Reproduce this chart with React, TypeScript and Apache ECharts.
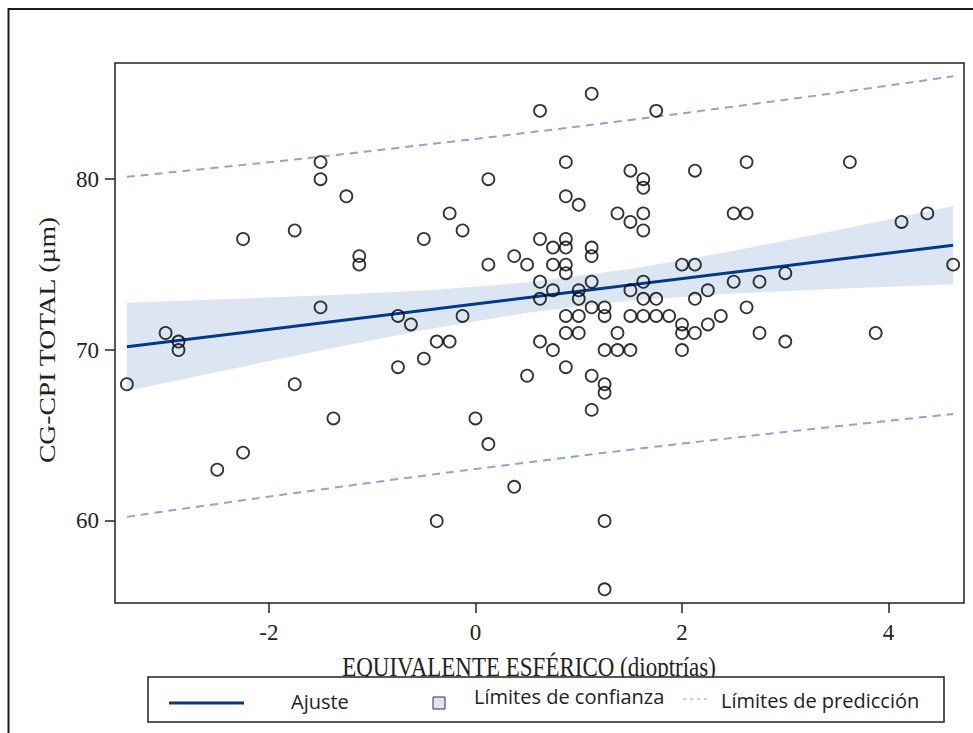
import React, { useEffect, useRef } from "react";
import * as echarts from "echarts";

// Scatter data: [equivalente esférico (D), CG-CPI total (µm)]
const points: [number, number][] = [
  [-3.375, 68], [-3, 71], [-2.875, 70.5], [-2.875, 70], [-2.5, 63],
  [-2.25, 76.5], [-2.25, 64], [-1.75, 77], [-1.75, 68],
  [-1.5, 81], [-1.5, 80], [-1.5, 72.5], [-1.375, 66], [-1.25, 79],
  [-1.125, 75.5], [-1.125, 75], [-0.75, 72], [-0.75, 69], [-0.625, 71.5],
  [-0.5, 76.5], [-0.5, 69.5], [-0.375, 70.5], [-0.375, 60],
  [-0.25, 78], [-0.25, 70.5], [-0.125, 77], [-0.125, 72],
  [0, 66], [0.125, 80], [0.125, 75], [0.125, 64.5],
  [0.375, 75.5], [0.375, 62], [0.5, 75], [0.5, 68.5],
  [0.625, 84], [0.625, 76.5], [0.625, 74], [0.625, 73], [0.625, 70.5],
  [0.75, 76], [0.75, 75], [0.75, 73.5], [0.75, 70],
  [0.875, 81], [0.875, 79], [0.875, 76.5], [0.875, 76], [0.875, 75],
  [0.875, 74.5], [0.875, 72], [0.875, 71], [0.875, 69],
  [1, 78.5], [1, 73.5], [1, 73], [1, 72], [1, 71],
  [1.125, 85], [1.125, 76], [1.125, 75.5], [1.125, 74], [1.125, 72.5],
  [1.125, 68.5], [1.125, 66.5],
  [1.25, 72.5], [1.25, 72], [1.25, 70], [1.25, 68], [1.25, 67.5],
  [1.25, 60], [1.25, 56],
  [1.375, 78], [1.375, 71], [1.375, 70],
  [1.5, 80.5], [1.5, 77.5], [1.5, 73.5], [1.5, 72], [1.5, 70],
  [1.625, 80], [1.625, 79.5], [1.625, 78], [1.625, 77], [1.625, 74],
  [1.625, 73], [1.625, 72],
  [1.75, 84], [1.75, 73], [1.75, 72], [1.875, 72],
  [2, 75], [2, 71.5], [2, 71], [2, 70],
  [2.125, 80.5], [2.125, 75], [2.125, 73], [2.125, 71],
  [2.25, 73.5], [2.25, 71.5], [2.375, 72], [2.5, 78], [2.5, 74],
  [2.625, 81], [2.625, 78], [2.625, 72.5], [2.75, 74], [2.75, 71],
  [3, 74.5], [3, 70.5], [3.625, 81], [3.875, 71], [4.125, 77.5],
  [4.375, 78], [4.625, 75],
];

// Fitted line
const fitX = [-3.375, 4.625];
const fitY = [70.19, 76.14];

// Confidence and prediction limits
const bandX = [-3.375, -2.5, -1.5, -0.5, 0.5, 1.5, 2.5, 3.5, 4.625];
const ciUpper = [72.77, 72.96, 73.19, 73.49, 73.95, 74.74, 75.81, 77.01, 78.43];
const ciLower = [67.61, 68.72, 69.97, 71.17, 72.19, 72.9, 73.31, 73.59, 73.85];
const predUpper = [80.14, 80.68, 81.32, 82.01, 82.72, 83.47, 84.25, 85.06, 86.02];
const predLower = [60.24, 61.0, 61.84, 62.65, 63.42, 64.17, 64.87, 65.54, 66.26];

const xTicks = [-2, 0, 2, 4];
const yTicks = [60, 70, 80];

const xTitle = "EQUIVALENTE ESFÉRICO (dioptrías)";
const yTitle = "CG-CPI TOTAL (µm)";
const legendLabels = ["Ajuste", "Límites de confianza", "Límites de predicción"];

const FIT_COLOR = "#003a8c";
const BAND_COLOR = "#dce6f2";
const PRED_COLOR = "#8fa6cf";
const SERIF = "'Liberation Serif', 'DejaVu Serif', serif";
const SANS = "'Open Sans', 'Noto Sans', sans-serif";

export default function App() {
  const ref = useRef<HTMLDivElement>(null);

  useEffect(() => {
    if (!ref.current) return;
    const chart = echarts.init(ref.current, undefined, { renderer: "svg" });

    const option: any = {
      animation: false,
      backgroundColor: "#ffffff",
      grid: {
        left: 115,
        top: 63,
        right: 9,
        bottom: 130,
        show: true,
        borderColor: "#222",
        borderWidth: 1.5,
        backgroundColor: "transparent",
      },
      xAxis: {
        type: "value",
        min: -3.49,
        max: 4.73,
        position: "bottom",
        axisLine: { show: false, onZero: false },
        splitLine: { show: false },
        axisTick: {
          show: true,
          length: 10,
          inside: false,
          customValues: xTicks,
          lineStyle: { color: "#222", width: 1.5 },
        },
        axisLabel: {
          customValues: xTicks,
          margin: 18,
          fontFamily: SERIF,
          fontSize: 23,
          color: "#222",
          formatter: (v: number) => String(v),
        },
      },
      yAxis: {
        type: "value",
        min: 55.2,
        max: 86.8,
        position: "left",
        axisLine: { show: false, onZero: false },
        splitLine: { show: false },
        axisTick: {
          show: true,
          length: 10,
          inside: false,
          customValues: yTicks,
          lineStyle: { color: "#222", width: 1.5 },
        },
        axisLabel: {
          customValues: yTicks,
          margin: 16,
          fontFamily: SERIF,
          fontSize: 23,
          color: "#222",
        },
      },
      series: [
        {
          type: "custom",
          name: "Límites de confianza",
          silent: true,
          clip: true,
          z: 1,
          data: [[0, 70]],
          renderItem: (_params: any, api: any) => {
            const pts: number[][] = [];
            for (let i = 0; i < bandX.length; i++) pts.push(api.coord([bandX[i], ciUpper[i]]));
            for (let i = bandX.length - 1; i >= 0; i--) pts.push(api.coord([bandX[i], ciLower[i]]));
            return {
              type: "polygon",
              shape: { points: pts },
              style: { fill: BAND_COLOR, stroke: "none" },
            };
          },
        },
        {
          type: "line",
          name: "pred-upper",
          data: bandX.map((x, i) => [x, predUpper[i]]),
          smooth: true,
          showSymbol: false,
          silent: true,
          z: 2,
          lineStyle: { color: PRED_COLOR, width: 2, type: [8, 6] },
        },
        {
          type: "line",
          name: "pred-lower",
          data: bandX.map((x, i) => [x, predLower[i]]),
          smooth: true,
          showSymbol: false,
          silent: true,
          z: 2,
          lineStyle: { color: PRED_COLOR, width: 2, type: [8, 6] },
        },
        {
          type: "line",
          name: "Ajuste",
          data: fitX.map((x, i) => [x, fitY[i]]),
          showSymbol: false,
          silent: true,
          z: 3,
          lineStyle: { color: FIT_COLOR, width: 3 },
        },
        {
          type: "scatter",
          name: "CG-CPI",
          data: points,
          symbol: "circle",
          symbolSize: 12,
          z: 4,
          itemStyle: { color: "rgba(255,255,255,0)", borderColor: "#000", borderWidth: 1.8 },
        },
      ],
      graphic: [
        {
          type: "polyline",
          silent: true,
          shape: { points: [[8.5, 740], [8.5, 9], [980, 9]] },
          style: { stroke: "#1a1a1a", lineWidth: 2, fill: "none" },
        },
        {
          type: "text",
          x: 47,
          y: 340,
          rotation: Math.PI / 2,
          scaleX: 1.2,
          style: {
            text: yTitle,
            font: `23px ${SERIF}`,
            fill: "#222",
            align: "center",
            verticalAlign: "middle",
          },
        },
        {
          type: "text",
          x: 529,
          y: 666,
          scaleY: 1.2,
          z: 10,
          style: {
            text: xTitle,
            font: `23px ${SERIF}`,
            fill: "#222",
            align: "center",
            verticalAlign: "middle",
          },
        },
        {
          type: "rect",
          z: 20,
          shape: { x: 148, y: 677, width: 796, height: 45 },
          style: { fill: "#ffffff", stroke: "#222", lineWidth: 1.5 },
        },
        {
          type: "line",
          z: 21,
          shape: { x1: 169, y1: 703, x2: 244, y2: 703 },
          style: { stroke: FIT_COLOR, lineWidth: 3 },
        },
        {
          type: "text",
          z: 21,
          x: 291,
          y: 701,
          style: { text: legendLabels[0], font: `20px ${SANS}`, fill: "#222", verticalAlign: "middle" },
        },
        {
          type: "rect",
          z: 21,
          shape: { x: 433, y: 697, width: 12, height: 12 },
          style: { fill: BAND_COLOR, stroke: "#333", lineWidth: 1 },
        },
        {
          type: "text",
          z: 21,
          x: 474,
          y: 696,
          style: { text: legendLabels[1], font: `20px ${SANS}`, fill: "#222", verticalAlign: "middle" },
        },
        {
          type: "line",
          z: 21,
          shape: { x1: 683, y1: 699, x2: 709, y2: 699 },
          style: { stroke: "#aebfe0", lineWidth: 1.5, lineDash: [3, 4] },
        },
        {
          type: "text",
          z: 21,
          x: 721,
          y: 700,
          style: { text: legendLabels[2], font: `20px ${SANS}`, fill: "#222", verticalAlign: "middle" },
        },
      ],
    };

    chart.setOption(option);
    return () => chart.dispose();
  }, []);

  return (
    <div
      ref={ref}
      style={{ position: "fixed", left: 0, top: 0, width: 973, height: 733, background: "#fff" }}
    />
  );
}
